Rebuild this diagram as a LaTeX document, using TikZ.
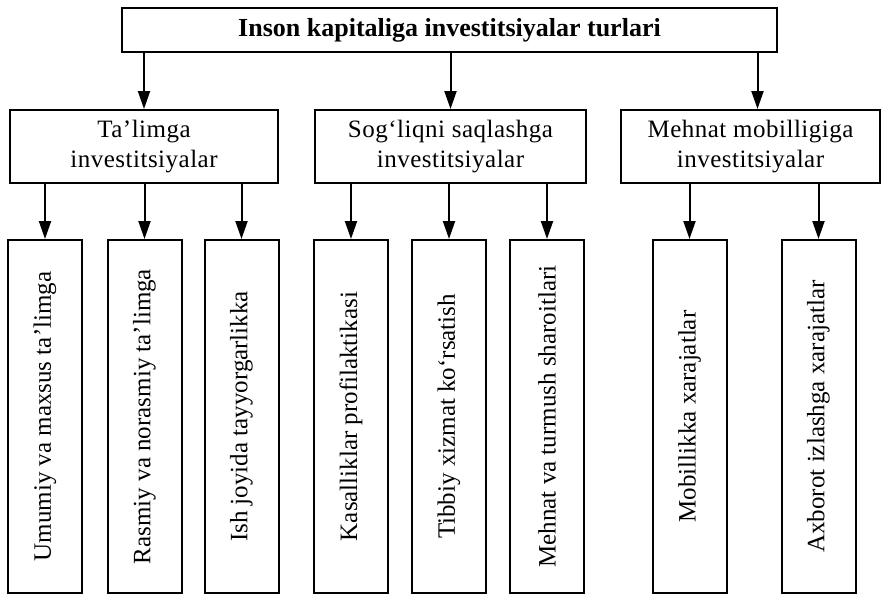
\documentclass[tikz,border=0pt]{standalone}
\usepackage{fontspec}
\setmainfont{Liberation Serif}
\newfontfamily\spacedfont[LetterSpace=2]{Liberation Serif}
\usetikzlibrary{arrows.meta}
\begin{document}
\begin{tikzpicture}[x=1pt,y=-1pt,
  box/.style={draw, line width=2pt, inner sep=0pt, align=center, font=\fontsize{25}{30}\selectfont},
  midbox/.style={box, minimum height=73pt, font=\spacedfont\fontsize{25}{30}\selectfont},
  leaf/.style={box, minimum width=74pt, minimum height=353pt},
  arr/.style={line width=2pt, -{Triangle[length=18pt,width=12pt]}}]
\useasboundingbox (0,0) rectangle (884,597);
% top
\node[box, minimum width=655pt, minimum height=44pt, font=\fontsize{26}{30}\selectfont\bfseries] (top) at (449.5,30) {Inson kapitaliga investitsiyalar turlari};
% level 2
\node[midbox, minimum width=268pt] (m1) at (144,146.5) {Ta’limga\\investitsiyalar};
\node[midbox, minimum width=271pt] (m2) at (450.5,146.5) {Sog‘liqni saqlashga\\investitsiyalar};
\node[midbox, minimum width=259pt] (m3) at (750.5,146.5) {Mehnat mobilligiga\\investitsiyalar};
% leaves
\node[leaf] (b1) at (45,416.5) {\rotatebox{90}{Umumiy va maxsus ta’limga}};
\node[leaf] (b2) at (144.5,416.5) {\rotatebox{90}{Rasmiy va norasmiy ta’limga}};
\node[leaf] (b3) at (241.5,416.5) {\rotatebox{90}{Ish joyida tayyorgarlikka}};
\node[leaf] (b4) at (351,416.5) {\rotatebox{90}{Kasalliklar profilaktikasi}};
\node[leaf] (b5) at (449,416.5) {\rotatebox{90}{Tibbiy xizmat ko‘rsatish}};
\node[leaf] (b6) at (547,416.5) {\rotatebox{90}{Mehnat va turmush sharoitlari}};
\node[leaf] (b7) at (689.5,416.5) {\rotatebox{90}{Mobillikka xarajatlar}};
\node[leaf] (b8) at (818.5,416.5) {\rotatebox{90}{Axborot izlashga xarajatlar}};
% connectors
\coordinate (c3) at ([xshift=7pt]m3.north);
\draw[arr] (top.south -| m1.north) -- (m1.north);
\draw[arr] (top.south -| m2.north) -- (m2.north);
\draw[arr] (top.south -| c3) -- (c3);
\foreach \l in {b1,b2,b3} \draw[arr] (m1.south -| \l.north) -- (\l.north);
\foreach \l in {b4,b5,b6} \draw[arr] (m2.south -| \l.north) -- (\l.north);
\foreach \l in {b7,b8} \draw[arr] (m3.south -| \l.north) -- (\l.north);
\end{tikzpicture}
\end{document}
